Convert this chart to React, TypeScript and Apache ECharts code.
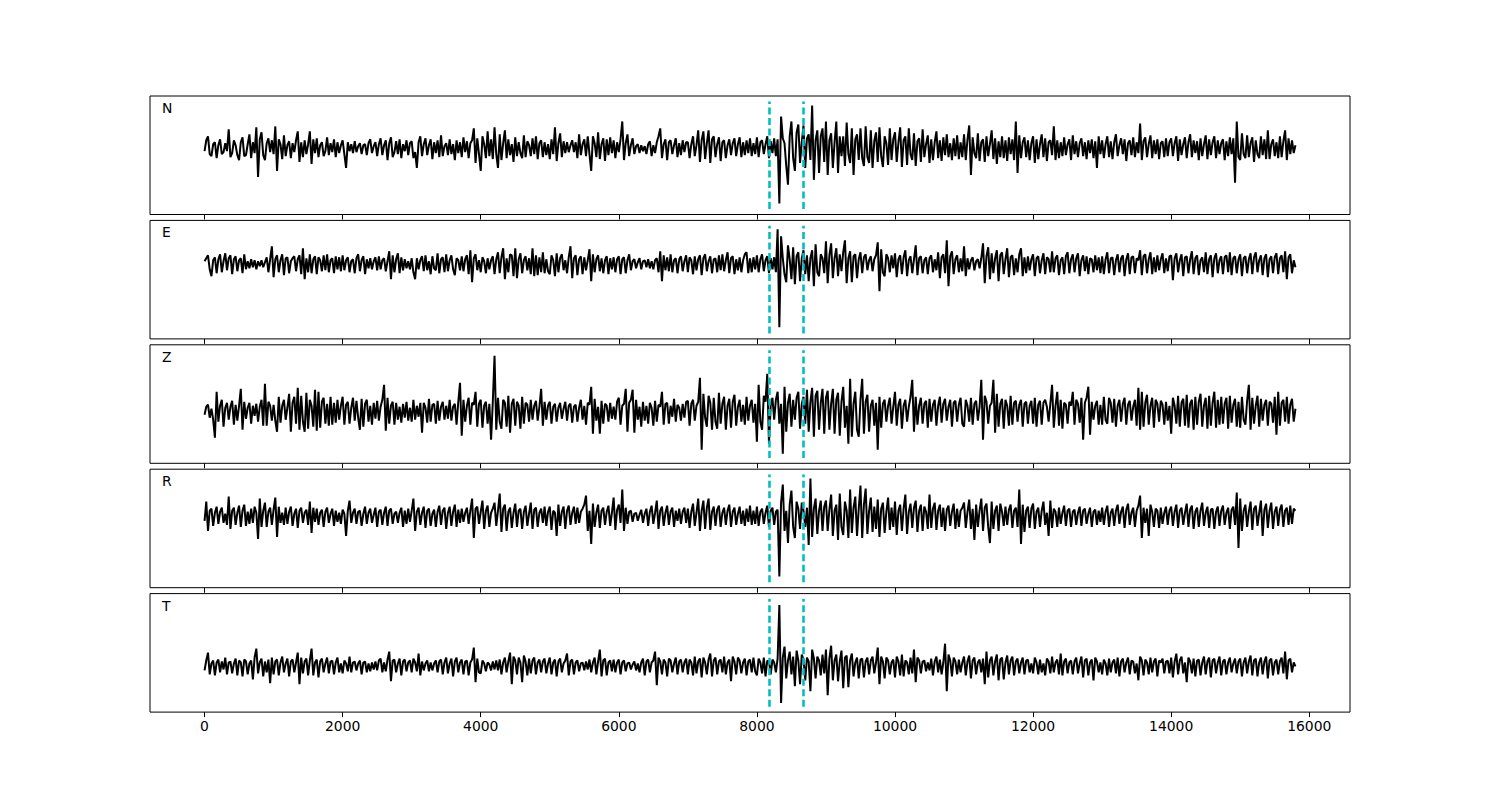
import React, { useEffect, useRef } from "react";
import * as echarts from "echarts";

// Sample spacing along the x axis (data units)
const STEP = 25;

// Trace amplitudes (arbitrary units), one value every STEP starting at x = 0
const TRACE_N = [
  -3, 8, 12, -6, -8, 4, 6, -10, 3, 9, -6, -4, 5, -3, 19, -9, -5, 8, 3, -7,
  -12, 6, 11, -8, -7, 4, 14, -10, 6, -5, 21, -29, 9, 16, -7, -12, 5, 10, -4, 8,
  -6, 22, -23, 9, 4, -11, 13, -8, 3, 7, -10, 5, -4, 8, 17, -14, 6, -9, 8, -6,
  4, 17, -16, 9, -5, 10, -9, 3, 6, -8, -3, 11, -7, 5, -4, 9, -9, 6, -5, 3,
  8, -6, -20, 6, -3, 4, -5, 7, -4, 2, 5, -6, 3, 4, -7, 5, 9, -5, 2, 6,
  -8, 4, 10, -7, 3, 8, -12, 5, 11, -9, -4, 7, -6, 9, -10, 4, -3, 8, -7, 5,
  7, -10, -4, -20, 6, 12, -8, 4, 10, -7, 3, 9, -11, 6, -5, 8, -9, 13, -8, 2,
  5, -7, 9, -6, 4, -12, 8, -5, 6, -9, 11, -4, 7, -10, 5, 8, 20, -15, 10, -6,
  -23, 12, 4, -10, 17, -8, 9, -11, 21, -6, -20, 14, -12, 5, 18, -10, 9, -7, 4, -14,
  11, -8, 6, -5, -10, 13, -9, 7, 3, -8, 10, -6, 12, -11, 5, 8, -9, 6, -7, 4,
  -11, 9, -6, 21, -13, 5, 15, -9, 7, -5, 6, -4, 3, 8, -4, 6, -10, 14, -7, 4,
  9, -8, 12, -6, -23, 12, 5, -9, 16, -11, 4, 10, -13, 9, -7, 11, -5, 8, -10, 6,
  -4, 9, 27, -12, 5, 14, -8, 3, 10, -6, 2, 4, -5, 3, -3, 2, -6, 4, 7, -8,
  3, -5, 6, 12, 20, -10, 4, 9, -12, 6, 8, -6, 3, 10, -9, 5, -7, 8, -4, 6,
  6, -10, 4, 12, -8, 3, 18, -14, 8, 17, -11, 5, 18, -15, 9, 12, -9, 4, 11, -13,
  6, 8, -10, 3, 9, -7, 5, 10, -8, 4, 11, -9, 6, -7, 8, -5, 10, -8, 5, -6,
  11, -9, 6, 8, -6, 4, 12, -10, 7, -5, 10, -8, 9, -56, 32, 10, 5, -18, -37, 12,
  27, -10, -23, 16, 24, -15, 6, 23, -20, 10, 14, -12, 43, -32, 8, 18, -25, 12, 20, -14,
  27, -27, 8, 15, -20, 6, 27, -25, 12, -8, 12, -18, 26, -6, -15, 20, -27, 9, 14, -12,
  20, -10, -18, 22, -9, -15, 18, -20, 7, 16, -14, 21, -8, -19, 12, 5, -17, 20, -12, 9,
  16, -14, 6, 21, -19, 8, 12, -17, 20, -6, -12, 15, -18, 7, 10, -14, 19, -9, 4, 13,
  -15, 9, -12, 6, 17, -10, 8, -13, 11, -7, 14, -9, 5, -12, 10, -8, 13, -11, 6, -9,
  14, -12, 9, 23, -27, 11, -5, -10, 15, -13, 6, 9, -14, 12, -8, 4, 18, -11, 10, -16,
  7, -9, 12, -10, 8, -13, 11, -6, 9, -12, 27, -25, 13, -10, 6, 11, -9, 8, -12, 5,
  12, -15, 9, -11, 4, 14, -9, 10, -13, 6, 8, -7, 22, -12, 8, -10, 6, -8, 11, -7,
  4, 9, -12, 13, -6, 7, -9, 5, 10, -8, 6, -11, 8, -5, 9, -10, 7, -20, 12, -6,
  8, -10, 4, 12, -9, 7, -11, 6, 14, -8, 3, 10, -6, 9, -13, 5, 8, -7, 11, -9,
  6, -5, 25, -12, 7, 11, -9, 4, 13, -10, 8, -6, 9, -11, 5, 7, -9, 10, -8, 6,
  10, -8, 5, 12, -13, 9, -7, 4, 11, -10, 6, 14, -9, 8, -5, 7, -12, 10, -8, 4,
  13, -11, 9, -7, 6, 12, -10, 8, -6, 5, 9, -12, 7, -8, 11, -6, 10, -35, 27, -9,
  -12, 15, -6, -10, 13, -9, 5, 11, -14, 8, -6, -10, 12, -7, 9, -11, 18, -11, 4, 9,
  -8, 6, -10, 12, -9, 7, 18, -12, 10, -6, 8, -5, 3,
];

const TRACE_E = [
  3, 6, 9, -5, -12, 4, 7, -9, 5, 10, -8, 3, 11, -6, 6, 9, -10, 5, 8, -7,
  4, 6, -9, 10, -5, 3, -4, 5, -3, 4, -5, 3, -2, 4, -3, 2, 7, -8, 5, 18,
  -13, 5, 9, -8, 4, 10, -11, 6, 7, -9, 3, 6, 8, -7, 5, 9, -10, 16, -15, 6,
  -8, 10, -9, 5, 8, -10, 7, 4, -7, 9, -6, 10, -8, 4, 6, -9, 8, -5, 7, -7,
  9, -6, 4, 7, -8, 3, 5, -9, 6, 10, -7, 4, 8, -10, 5, -4, 6, -5, 3, 7,
  -6, 8, -5, 4, 6, -7, 3, 13, -15, 9, -8, 5, 11, -9, 7, -6, 5, -4, 3, -5,
  6, -8, -15, 6, -5, 4, 8, -7, 9, -6, 3, -10, 8, -4, -6, 11, -9, 5, 7, -8,
  10, -7, 4, 9, -5, -11, 6, 4, -6, 8, -7, 5, 9, -10, 14, -18, 6, 10, -6, 4,
  -8, 7, 3, -9, 6, -5, 4, 8, -10, 5, 12, -9, 7, 16, -15, 6, -8, 10, 9, -12,
  16, -14, 5, 11, -9, 4, 8, -6, 6, -10, 16, -12, 9, -11, 7, -8, 12, -9, 5, -7,
  -10, 9, 4, -12, 11, -8, 6, 10, -6, 4, -9, 7, 18, -14, 6, 9, -11, 5, 8, -10,
  7, -6, 4, 15, -17, 10, -8, 5, 9, -7, 6, -9, 4, 8, -10, 6, -5, 7, -8, 5,
  8, -10, 5, 7, -9, 4, 10, -6, 3, 5, -4, 2, 6, -5, 3, 4, -3, 5, -4, 3,
  -5, 4, 6, -8, 13, -17, 9, -6, 7, -7, 10, -8, 4, 6, -9, 5, 8, -7, 3, 9,
  -8, 7, 4, -10, 8, -6, 5, 9, -11, 6, 10, -7, 3, 8, -9, 5, 6, -8, 9, -6,
  10, -7, 4, 12, -9, 6, 8, -10, 5, -6, 7, -8, 4, 10, 12, -9, 6, -8, 7, -5,
  9, -8, 5, 10, -7, 4, 8, -9, 6, -5, 7, -8, 35, -63, 28, 6, -10, -18, 19, 5,
  -15, 17, -20, 8, 12, -17, 6, 14, -10, 9, -17, 6, 14, -22, 20, -8, -12, 10, 6, -9,
  23, -19, 9, 21, -14, 6, 16, -12, 10, -7, 12, 24, -19, 6, 13, -18, 8, 10, -14, 5,
  12, -9, 7, 10, -6, 4, 8, -7, 5, 9, 22, -27, 15, -8, -12, 10, 6, -8, 9, -4,
  11, -13, 5, 9, -10, 7, 14, -12, 4, 8, -9, 5, 19, -11, 6, 8, -9, 4, 7, -10,
  6, 9, -8, 5, -6, 12, -14, 7, 10, -9, 24, -22, 8, 13, -10, 5, 9, -8, 6, -7,
  18, -12, 6, -5, 4, 7, -6, 3, 5, -4, 6, 21, -19, 8, 17, -15, 11, -9, 6, 14,
  -17, 9, 12, -10, 5, 16, -13, 7, 9, -11, 6, -8, 10, 16, -12, 7, -9, 8, -6, 5,
  10, -12, 6, 8, -9, 4, 11, -10, 7, 5, -8, 13, -8, 6, 9, -11, 4, 7, -10, 8,
  12, -9, 5, 10, -8, 6, 11, -12, 4, 9, -7, 8, -10, 6, 5, -8, 9, -6, 7, -9,
  8, -10, 5, 12, -9, 6, 7, -11, 4, 10, -8, 6, 9, -12, 5, 11, -10, 7, 8, -9,
  6, 4, 14, -11, 8, 10, -9, 5, 12, -10, 7, -8, 9, -6, 5, 11, -9, 6, -7, 8,
  9, -16, 6, 11, -8, 4, 10, -12, 7, 8, -9, 5, 13, -10, 6, 9, -11, 4, 7, -8,
  12, -10, 5, 9, -13, 6, 11, -9, 4, 8, -10, 7, 9, -8, 12, -11, 6, 8, -9, 5,
  10, -12, 6, 8, -9, 5, 11, -10, 7, 12, -8, 4, 9, -11, 6, 10, -13, 5, 8, -9,
  7, 11, -10, 6, 9, -8, 13, -15, 7, 10, -9, 4, -3,
];

const TRACE_Z = [
  -3, 5, 7, -6, 3, -8, -26, 20, -10, 6, 12, -15, 4, 9, -8, 5, 11, -13, 7, -9,
  6, 23, -18, 10, -7, 4, 9, -12, 6, -4, 8, -10, 5, 12, -14, 28, -14, 10, 6, -9,
  7, -9, -20, 15, -11, 6, 12, -8, 4, 18, -20, 9, 15, -12, 24, -18, 16, -10, -20, 19,
  -17, 12, 6, -15, 22, -19, 20, -16, 10, 14, -12, 8, -14, 15, -13, 9, -11, 12, -8, 6,
  15, -13, 7, 10, -12, 4, 14, -9, 11, -6, -18, 13, -15, 8, 12, -10, 6, -13, 9, -7,
  11, -9, 5, 12, 27, -19, 14, -12, 6, 10, -13, 9, -8, 5, -11, 8, -6, 10, -9, 4,
  -10, 12, -8, 6, -5, 9, -21, 9, 4, -11, 13, -10, 7, 8, -12, 11, -9, 5, 10, -8,
  6, -7, 12, -9, 5, 8, -13, 10, 29, -24, 12, -10, 6, 14, -13, 9, 7, 20, -15, 8,
  12, -16, 6, 10, -12, 8, -28, 10, 56, -18, 14, -10, -17, 12, 9, -15, 16, -21, 8, 13,
  -14, 10, 6, -17, 15, -12, 9, 7, -10, 12, -8, 6, 11, -9, 5, 23, -14, 10, -8, 6,
  10, -12, 5, 8, -10, 4, 9, -7, 3, 10, -9, 6, 8, -11, 5, 7, -10, 4, 12, -8,
  6, -13, 9, 7, 25, -22, 13, -9, 5, -22, 11, -12, 8, 6, -10, 9, -7, 5, -8, 10,
  14, -13, 6, 8, 23, -20, 9, 12, 22, -21, 12, -8, 5, -15, 10, -9, 6, -12, 9, 4,
  -14, 11, -10, 7, 5, 20, -13, 8, 9, -12, 6, -5, 13, -10, 7, 4, -9, 8, -6, 10,
  11, -14, 8, 12, -9, 6, 10, 34, -38, 18, -6, -15, 16, 9, -18, 14, -10, -17, 19, -12,
  8, 15, -18, 6, 13, -16, 10, 17, -14, 5, 12, -10, 7, -13, 15, -9, 6, 12, -11, 8,
  -30, 27, -10, -18, 16, 10, 38, -32, 6, 14, -8, 12, 20, -12, 8, -42, 25, -20, 9, 18,
  -15, 12, -8, 14, 20, -17, 8, 15, -12, 22, -20, 10, 24, -25, 16, 21, -18, 9, 23, -22,
  14, 21, -18, 8, 23, -22, 12, 19, -24, 10, 25, -16, 6, -32, 33, -25, 8, 20, -18, -25,
  12, 33, -22, 10, 17, -20, 6, 12, -14, 9, -38, 15, -16, 8, 12, -10, 6, 14, -12, 5,
  20, -14, 7, 13, -17, 6, 12, -10, 5, 15, 32, -20, 15, -13, 6, 14, -12, 8, 11, -16,
  13, -10, 7, 12, -14, 6, 15, -11, 8, 13, -9, 5, 12, -15, 9, 11, -10, 7, 14, -12,
  -15, 12, 6, -10, 14, -13, 8, 11, -9, 5, 32, -28, 16, 10, -12, 6, 9, 32, -21, 18,
  -15, 8, 13, -17, 12, 6, -14, 16, -13, 9, 11, -10, 7, 12, -15, 8, 10, -12, 6, 11,
  -12, 14, -15, 7, 11, -13, 9, 12, 5, -10, 8, 27, -16, 6, 20, -14, 12, -17, 9, 7,
  -12, 10, 6, 20, -13, 12, 8, -11, 14, -28, 9, 14, 25, -23, 10, -8, 6, 11, -13, 7,
  -13, 15, -8, -12, 14, 9, -11, 13, -15, 6, 12, -10, 8, 14, -13, 7, 11, -9, 5, 12,
  -14, 24, -18, 20, -15, 9, 17, -13, 6, 14, -16, 12, 8, -10, 11, 7, -13, 10, -9, 6,
  -22, 14, 6, -12, 16, -15, 9, 13, -14, 17, -16, 8, 12, -18, 15, -13, 10, 18, -15, 6,
  14, -17, 16, -14, 9, 20, -16, 12, -13, 15, -12, 8, 14, -17, 16, -11, 7, 13, -15, 10,
  -16, 15, -8, -13, 11, 27, -18, 14, -12, 6, 16, -15, 13, -9, 7, 12, -14, 10, 8, -11,
  15, -23, 20, -14, 9, 12, -10, 15, -12, 7, 13, -10, 3,
];

const TRACE_R = [
  -4, 15, -14, 6, 8, -9, 4, 10, -7, 5, 9, -6, 3, -8, 20, -12, 6, 9, -8, 4,
  11, -10, 6, 12, -9, 5, -7, 8, -6, 10, 4, -22, 18, -10, 6, 14, -10, 5, 9, -8,
  7, 19, -20, 10, -6, 4, -8, 9, -7, 5, 10, -9, 3, 8, -11, 6, 9, -6, 4, 7,
  -8, 15, -16, 9, -5, 8, -8, 4, 7, -10, 5, 9, -6, 3, 8, -9, 6, -5, 4, -7,
  7, 3, -19, 6, 16, -6, 4, 8, -7, 5, 6, -9, 3, 10, -7, 4, 8, -6, 2, 9,
  -10, 5, 7, -8, 4, 10, -9, 6, 8, -7, 3, 5, -6, 4, 9, -10, 6, -7, 8, -5,
  6, 18, -14, 5, 9, -8, 4, 10, -11, 6, 8, -9, 3, 7, -10, 5, 11, -8, 6, 9,
  -12, 4, 10, -9, 5, 12, -10, 7, -6, 8, -5, 4, 9, -7, 6, 18, -21, 8, 10, -7,
  5, 16, -12, 6, 11, -10, 4, 8, 14, -9, 6, 23, -15, 8, 12, -14, 5, 9, -11, 4,
  13, -10, 6, 8, -12, 5, 11, -9, 3, 14, -12, 7, 9, -10, 4, 8, -6, 10, -9, 5,
  10, -13, 6, 4, -19, 12, -9, 5, 10, -12, 6, 11, -8, 4, 10, -7, 9, -6, 5, 8,
  12, 21, -14, 6, -27, 13, -10, 4, 12, -11, 6, 9, -8, 5, 11, -9, 4, 19, -13, 7,
  12, -6, 27, -14, 9, -7, 5, 6, -5, 3, 4, -4, 2, 7, -6, 3, 8, -9, 5, 11,
  -7, 4, 16, -12, 6, 10, -9, 4, 11, -8, 5, 9, -10, 6, -4, 8, -7, 5, 9, -6,
  8, -11, 5, 13, -9, 4, 18, -14, 6, 16, -12, 9, 18, -13, 5, 10, -9, 7, 11, -10,
  4, 9, -8, 6, 12, -10, 5, 9, -8, 3, 10, -7, 6, -9, 8, -5, 11, -8, 6, -7,
  10, -9, 5, 8, -7, 4, 11, -10, 6, 9, -8, 5, 7, -59, 14, 32, -14, 6, -26, 12,
  26, -10, -21, 15, 8, -12, 14, 6, -10, 9, -28, 38, -20, 8, 18, -17, 6, 16, -14, 10,
  16, -14, 7, 22, -19, 6, 12, -23, 23, -10, -18, 15, 6, -21, 27, -16, 9, 20, -19, 8,
  31, -21, 12, 28, -17, 6, 19, -15, 10, -12, 17, -20, 8, 14, -16, 5, 19, -13, 9, -10,
  15, -18, 6, 12, -14, 8, 22, -17, 5, 13, -11, 9, 16, -15, 6, 12, -14, 10, 5, -12,
  22, -11, 8, 14, -13, 6, 12, -10, 9, -14, 7, 11, -9, 5, 13, -12, 8, -10, 6, 9,
  14, -11, 5, 17, -12, 8, -23, 12, -10, 6, 18, -14, 9, 13, -10, -26, 15, -12, 6, 11,
  -14, 13, 5, -9, 10, -8, 7, 12, -11, 6, 9, -10, 27, -27, 12, -15, 6, 10, -11, 8,
  13, -12, 5, 9, -10, 6, 15, -8, 4, -19, 16, -11, 8, 5, -10, 9, -7, 4, 11, -9,
  6, 8, -10, 5, 7, -8, 4, 10, -9, 6, 8, -7, 3, 9, -10, 5, 7, -8, 6, -5,
  9, -8, 5, 11, -10, 4, 8, -9, 6, 12, -7, 5, 10, -11, 7, 13, -8, 4, 9, -10,
  6, 11, 21, -21, 9, -6, 8, -19, 12, 5, -10, 8, 6, -11, 9, -7, 4, 10, -8, 6,
  10, -9, 5, 12, -11, 6, 9, -8, 4, 13, -10, 7, 11, -12, 5, 9, -10, 6, 14, -9,
  4, 10, -11, 7, 8, -12, 5, 10, -9, 6, 11, -8, 4, 9, -12, 7, 10, -8, 24, -31,
  18, -14, 6, 12, -10, 5, 15, -13, 8, 11, -9, 4, 16, -19, 7, 13, -11, 6, 14, -12,
  5, 10, -9, 7, 12, -10, 6, 9, -8, 11, -7, 8, 6,
];

const TRACE_T = [
  -4, 6, 14, -8, 3, 6, -9, 4, 7, -6, 5, -3, 9, -8, 4, 5, -7, 3, 8, -9,
  6, 4, -10, 7, 5, -8, 3, 6, -13, 9, 18, -7, 4, 8, -10, 5, -6, 7, -17, 9,
  -8, 5, 7, -9, 4, 10, -6, 3, 8, -10, 5, 7, -6, 4, 14, -18, 9, -7, 5, 8,
  -9, 6, 18, -9, 4, 7, -11, 5, 8, -6, 3, 9, -7, 5, 6, -8, 4, 9, -6, 3,
  -7, 6, 3, -5, 10, -6, 4, 5, -4, 3, 6, -8, 4, 5, -6, 3, -5, 4, -3, 5,
  -4, 6, 8, -6, 4, -5, 7, 15, -15, 6, 7, -6, 3, 8, -9, 5, 7, -5, 4, 6,
  -6, 8, 4, -5, 13, -9, 5, -4, 3, 6, -5, 4, -4, 3, 6, -6, 5, 7, -8, 4,
  9, -7, 3, 8, -10, 5, 9, -6, 4, 7, -8, 5, 6, -9, 4, 7, 19, -16, 8, -6,
  -7, 6, 3, -5, 4, 2, -4, 5, -3, 6, -4, 7, -8, 4, 9, -6, 5, 14, -18, 10,
  6, -8, 9, 4, -16, 11, 5, -9, 8, -7, 6, 9, -8, 4, 7, -6, 5, 8, -7, 3,
  9, -8, 4, 7, -10, 5, 8, -6, 3, 6, 13, -9, 5, 7, -8, 4, 6, -5, 3, 4,
  -4, 5, -3, 7, -6, 4, 9, -8, 5, 17, -10, 6, 8, -9, 4, 6, -5, 7, -6, 4,
  7, -8, 4, 6, -5, 3, 4, -3, 2, 5, -4, 3, -6, 4, 8, -9, 5, 7, -6, 4,
  6, 15, -19, 9, 5, -8, 7, 4, -10, 8, 6, -6, 3, 9, -8, 5, 7, -6, 4, 8,
  -8, 7, 4, -9, 10, -7, 5, 8, -11, 9, 4, -8, 7, 13, -10, 6, 9, -8, 5, 7,
  -6, 10, -8, 4, 7, -15, 10, 5, -8, 9, 6, -7, 4, 8, -9, 5, 7, -6, 9, -5,
  -9, 8, 4, -7, 9, -10, 6, 5, -8, 7, 4, -6, 8, 62, -37, 9, 20, -12, 6, 15,
  -8, 10, -20, 16, 6, -18, 12, 7, -14, 9, 5, -25, 17, 8, -12, 10, 6, -9, 12, -7,
  17, -29, 8, 21, -14, 6, 12, -15, 5, 16, -22, 9, 11, -21, 6, 13, -10, 4, 9, -12,
  7, 8, -11, 5, 9, -8, 6, 10, -7, 4, 19, -18, 10, 5, -12, 9, 6, -8, 4, 7,
  -11, 10, 5, -9, 12, -10, 6, 4, -8, 9, -7, 17, -16, 9, 6, -7, 5, 6, -5, 4,
  -4, 8, -9, 5, 10, -6, 7, -8, 4, 23, -25, 12, 6, -10, 9, 5, -8, 7, -6, 4,
  10, -9, 5, 11, -12, 6, 9, -8, 4, 7, -6, 8, -18, 15, -11, 6, 10, -9, 5, 12,
  -14, 7, 9, -13, 4, 11, -8, 6, 10, -9, 5, 8, -7, 4, 9, -8, 6, 7, -6, 3,
  -7, 9, 4, -8, 7, -6, 3, -9, 8, 5, -7, 10, -6, 4, 7, -8, 13, -9, 5, 8,
  -7, 4, 6, -8, 5, 9, -7, 3, 10, -11, 6, 8, -9, 4, 7, -14, 9, 5, -6, 4,
  -8, 7, 3, -9, 8, -6, 4, 7, -7, 9, -10, 5, 8, -6, 4, 9, -8, 6, 5, -7,
  3, -14, 10, 6, -9, 7, 4, -8, 9, -6, 5, 8, -10, 6, 4, 8, -7, 5, 6, -7,
  9, -11, 5, 13, -8, 6, 10, -7, 4, -16, 9, 5, -7, 8, -10, 6, 7, -9, 4, 10,
  -8, 5, 9, -11, 6, 8, -7, 4, 10, -9, 5, 7, -8, 4, 9, -6, 3, 8, -7, 5,
  8, -10, 4, 9, -7, 5, 11, -9, 6, 8, -10, 4, 9, -8, 5, 10, -12, 6, 8, -9,
  4, 7, -8, 5, 9, -7, 15, -13, 6, 8, -6, 4, 0,
];

const CHANNELS = ["N", "E", "Z", "R", "T"];
const TRACES = [TRACE_N, TRACE_E, TRACE_Z, TRACE_R, TRACE_T];
const X_TICKS = [0, 2000, 4000, 6000, 8000, 10000, 12000, 14000, 16000];
const PICKS = [8180, 8670];
const X_MIN = -790;
const X_MAX = 16590;

const GRID_LEFT = 150;
const GRID_WIDTH = 1200;
const GRID_TOP0 = 96;
const GRID_HEIGHT = 118.5;
const GRID_STEP = 124.4;

const FONT = "DejaVu Sans, sans-serif";

export default function App() {
  const ref = useRef<HTMLDivElement>(null);

  useEffect(() => {
    if (!ref.current) return;
    const chart = echarts.init(ref.current, null, { renderer: "svg" });

    const grids: any[] = [];
    const xAxes: any[] = [];
    const yAxes: any[] = [];
    const series: any[] = [];
    const graphics: any[] = [];

    TRACES.forEach((trace, k) => {
      const top = GRID_TOP0 + k * GRID_STEP;
      const isLast = k === TRACES.length - 1;
      const dmin = Math.min(...trace);
      const dmax = Math.max(...trace);
      const lo = dmin * 1.1;
      const hi = dmax * 1.1;
      const pad = (hi - lo) * 0.05;

      grids.push({
        left: GRID_LEFT,
        top,
        width: GRID_WIDTH,
        height: GRID_HEIGHT,
        show: true,
        borderColor: "#000",
        borderWidth: 1,
        backgroundColor: "transparent",
        containLabel: false,
      });

      xAxes.push({
        type: "value",
        gridIndex: k,
        position: "bottom",
        min: X_MIN,
        max: X_MAX,
        axisLine: { show: false, onZero: false },
        splitLine: { show: false },
        axisTick: {
          show: true,
          inside: false,
          length: 5,
          lineStyle: { color: "#000", width: 1 },
          customValues: X_TICKS,
        },
        axisLabel: {
          show: isLast,
          customValues: X_TICKS,
          formatter: (v: number) => String(v),
          color: "#000",
          fontSize: 13.9,
          fontFamily: FONT,
          margin: 7,
        },
      });

      yAxes.push({
        type: "value",
        gridIndex: k,
        min: lo - pad,
        max: hi + pad,
        show: false,
        splitLine: { show: false },
      });

      series.push({
        type: "line",
        xAxisIndex: k,
        yAxisIndex: k,
        data: trace.map((v, i) => [i * STEP, v]),
        showSymbol: false,
        symbol: "none",
        lineStyle: { color: "#000", width: 2 },
        silent: true,
        z: 2,
        markLine: {
          silent: true,
          symbol: ["none", "none"],
          label: { show: false },
          lineStyle: { color: "#00bfbf", width: 2.6, type: [7, 3.5] },
          data: PICKS.map((p) => [
            { coord: [p, lo] },
            { coord: [p, hi] },
          ]),
        },
      });

      graphics.push({
        type: "text",
        left: 162,
        top: top + 5,
        style: {
          text: CHANNELS[k],
          fill: "#000",
          fontSize: 13.9,
          fontFamily: FONT,
        },
      });
    });

    chart.setOption({
      animation: false,
      backgroundColor: "#fff",
      grid: grids,
      xAxis: xAxes,
      yAxis: yAxes,
      series,
      graphic: graphics,
    });

    return () => chart.dispose();
  }, []);

  return (
    <div
      ref={ref}
      style={{ position: "fixed", left: 0, top: 0, width: 1500, height: 800 }}
    />
  );
}
